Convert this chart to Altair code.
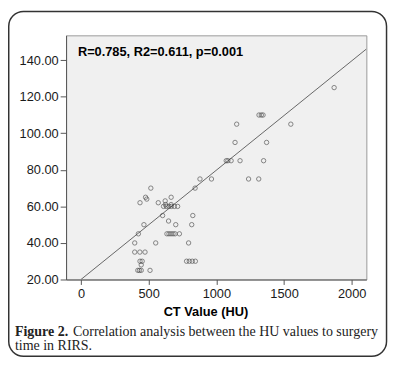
import altair as alt
import pandas as pd

# CT value (HU) and surgery time
hu = [516, 843, 477, 486, 436, 571, 622, 666, 625, 666,
      610, 630, 650, 668, 690, 714, 879, 964, 603, 647,
      826, 465, 700, 818, 424, 635, 650, 665, 680, 695,
      727, 397, 552, 795, 397, 435, 473, 436, 452, 445,
      420, 432, 445, 510, 780, 800, 822, 845, 1315, 1332,
      1345, 1150, 1138, 1371, 1073, 1085, 1109, 1175, 1349, 1238,
      1313, 1870, 1550]
time = [70, 70, 65, 64, 62, 62, 63, 65, 61, 61,
        60, 60, 60, 60, 60, 60, 75, 75, 55, 52,
        55, 50, 50, 50, 45, 45, 45, 45, 45, 45,
        45, 40, 40, 40, 35, 35, 35, 30, 30, 28,
        25, 25, 25, 25, 30, 30, 30, 30, 110, 110,
        110, 105, 95, 95, 85, 85, 85, 85, 85, 75,
        75, 125, 105]

# fit line end points
fit_x = [0, 2108]
fit_y = [20, 146.1]

y_ticks = [20, 40, 60, 80, 100, 120, 140]
x_ticks = [0, 500, 1000, 1500, 2000]

annotation = "R=0.785, R2=0.611, p=0.001"
x_title = "CT Value (HU)"
cap_bold = "Figure 2."
cap_line1 = "Correlation analysis between the HU values to surgery"
cap_line2 = "time in RIRS."

pts = pd.DataFrame({"hu": hu, "time": time})
fit = pd.DataFrame({"hu": fit_x, "time": fit_y})
one = pd.DataFrame({"a": [0]})

xs = alt.Scale(domain=[-110, 2108], nice=False, zero=False)
ys = alt.Scale(domain=[20, 153.6], nice=False, zero=False)

xa = alt.Axis(values=x_ticks, title=None, grid=False, tickSize=5, labelPadding=3,
              labelFlush=False, format="d")
ya = alt.Axis(values=y_ticks, title=None, grid=False, format=".2f", tickSize=6,
              labelPadding=2)

points = alt.Chart(pts).mark_point(shape="circle", filled=False, size=20,
                                   stroke="#444", strokeWidth=0.9).encode(
    x=alt.X("hu:Q", scale=xs, axis=xa),
    y=alt.Y("time:Q", scale=ys, axis=ya),
)

line = alt.Chart(fit).mark_line(color="#666", strokeWidth=1, clip=True).encode(
    x=alt.X("hu:Q", scale=xs, axis=xa),
    y=alt.Y("time:Q", scale=ys, axis=ya),
)

def txt(s, x, y, font="Liberation Sans", size=13, weight="normal", align="left", color="#111"):
    return alt.Chart(one).mark_text(
        text=s, font=font, fontSize=size, fontWeight=weight, align=align,
        baseline="alphabetic", color=color
    ).encode(x=alt.value(x), y=alt.value(y))

ann = txt(annotation, 12, 20.5, weight="bold", color="#000")
xt = txt(x_title, 142, 285.5, weight="bold", align="center", color="#000")
c1 = txt(cap_bold, -52, 305, font="Liberation Serif", size=14.2, weight="bold", color="#222")
c2 = txt(cap_line1, 7, 305, font="Liberation Serif", size=14.2, color="#222")
c3 = txt(cap_line2, -52, 320, font="Liberation Serif", size=14.2, color="#222")

border = alt.Chart(one).mark_rect(fill="transparent", stroke="#333", strokeWidth=1.5,
                                  cornerRadius=15).encode(
    x=alt.value(-58.25), x2=alt.value(325.5), y=alt.value(-24.25), y2=alt.value(326)
)

chart = alt.layer(line, points, ann, xt, c1, c2, c3, border).properties(
    width=305, height=248,
    autosize=alt.AutoSizeParams(type="none"),
    padding={"left": 59, "top": 25, "right": 23, "bottom": 79},
    background="white",
).configure_view(
    fill="#f0f0f0", stroke="#999", strokeWidth=1
).configure_axis(
    labelFont="Liberation Sans", labelFontSize=13, labelColor="#1a1a1a",
    tickColor="#555", domainColor="#555", domainWidth=1
)

chart.save("out.html", embed_options={"renderer": "svg", "actions": False})
